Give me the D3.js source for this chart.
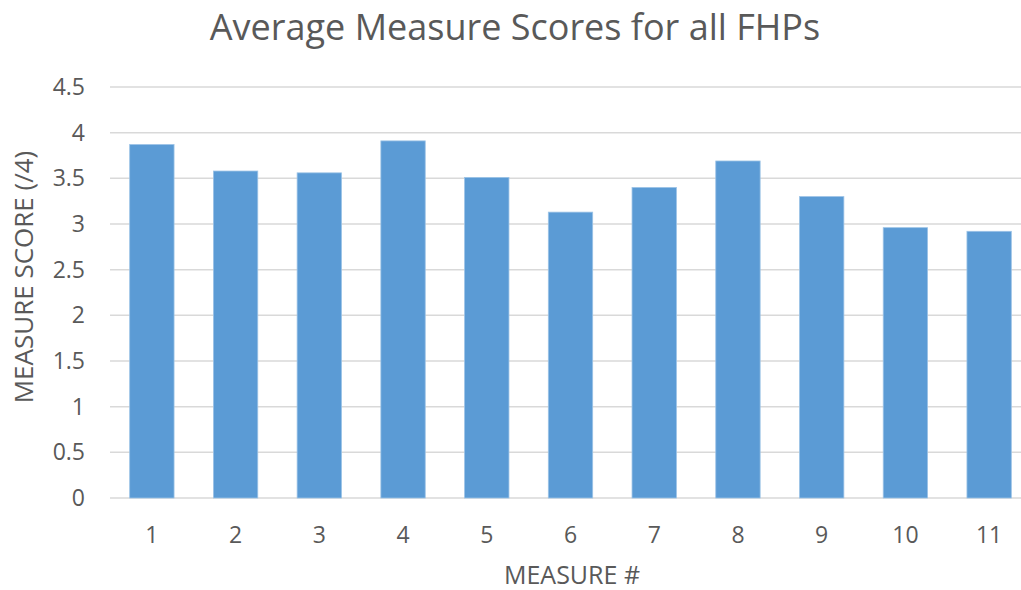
<!DOCTYPE html>
<html>
<head>
<meta charset="utf-8">
<script src="https://cdn.jsdelivr.net/npm/d3@7"></script>
<style>
  body { margin: 0; background: #fff; }
  text { font-family: "Open Sans", Lato, sans-serif; fill: #595959; }
</style>
</head>
<body>
<div id="chart"></div>
<script>
// chart data
const measures = ["1", "2", "3", "4", "5", "6", "7", "8", "9", "10", "11"];
const scores = [3.87, 3.58, 3.56, 3.91, 3.51, 3.13, 3.40, 3.69, 3.30, 2.96, 2.92];
const yTicks = [0, 0.5, 1, 1.5, 2, 2.5, 3, 3.5, 4, 4.5];

const width = 1021, height = 590;
const margin = { top: 87, right: -10, bottom: 92, left: 110 };

const svg = d3.select("#chart").append("svg")
    .attr("width", width)
    .attr("height", height);

const x = d3.scaleBand()
    .domain(measures)
    .range([margin.left, width - margin.right])
    .paddingInner(0.47)
    .paddingOuter(0.235);

const y = d3.scaleLinear()
    .domain([0, 4.5])
    .range([height - margin.bottom, margin.top]);

// gridlines
svg.append("g")
    .selectAll("line")
    .data(yTicks)
    .join("line")
    .attr("x1", margin.left)
    .attr("x2", width - margin.right)
    .attr("y1", d => y(d))
    .attr("y2", d => y(d))
    .attr("stroke", "#d9d9d9")
    .attr("stroke-width", 1.5);

// y tick labels
svg.append("g")
    .selectAll("text")
    .data(yTicks)
    .join("text")
    .attr("x", 85)
    .attr("y", d => y(d))
    .attr("dy", "0.35em")
    .attr("text-anchor", "end")
    .style("font-size", "23px")
    .text(d => d);

// bars
svg.append("g")
    .selectAll("rect")
    .data(scores)
    .join("rect")
    .attr("x", (d, i) => x(measures[i]))
    .attr("width", x.bandwidth())
    .attr("y", d => y(d))
    .attr("height", d => y(0) - y(d))
    .attr("fill", "#5b9bd5")
    .attr("stroke", "#9cc3e6")
    .attr("stroke-width", 0.8);

// x tick labels
svg.append("g")
    .selectAll("text")
    .data(measures)
    .join("text")
    .attr("x", d => x(d) + x.bandwidth() / 2)
    .attr("y", 535)
    .attr("dy", "0.35em")
    .attr("text-anchor", "middle")
    .style("font-size", "23px")
    .text(d => d);

// titles
svg.append("text")
    .attr("x", 515)
    .attr("y", 40)
    .attr("text-anchor", "middle")
    .style("font-size", "36px")
    .text("Average Measure Scores for all FHPs");

svg.append("text")
    .attr("x", 572)
    .attr("y", 584)
    .attr("text-anchor", "middle")
    .style("font-size", "25px")
    .text("MEASURE #");

svg.append("text")
    .attr("transform", "translate(33,277) rotate(-90)")
    .attr("text-anchor", "middle")
    .style("font-size", "26px")
    .text("MEASURE SCORE (/4)");
</script>
</body>
</html>
